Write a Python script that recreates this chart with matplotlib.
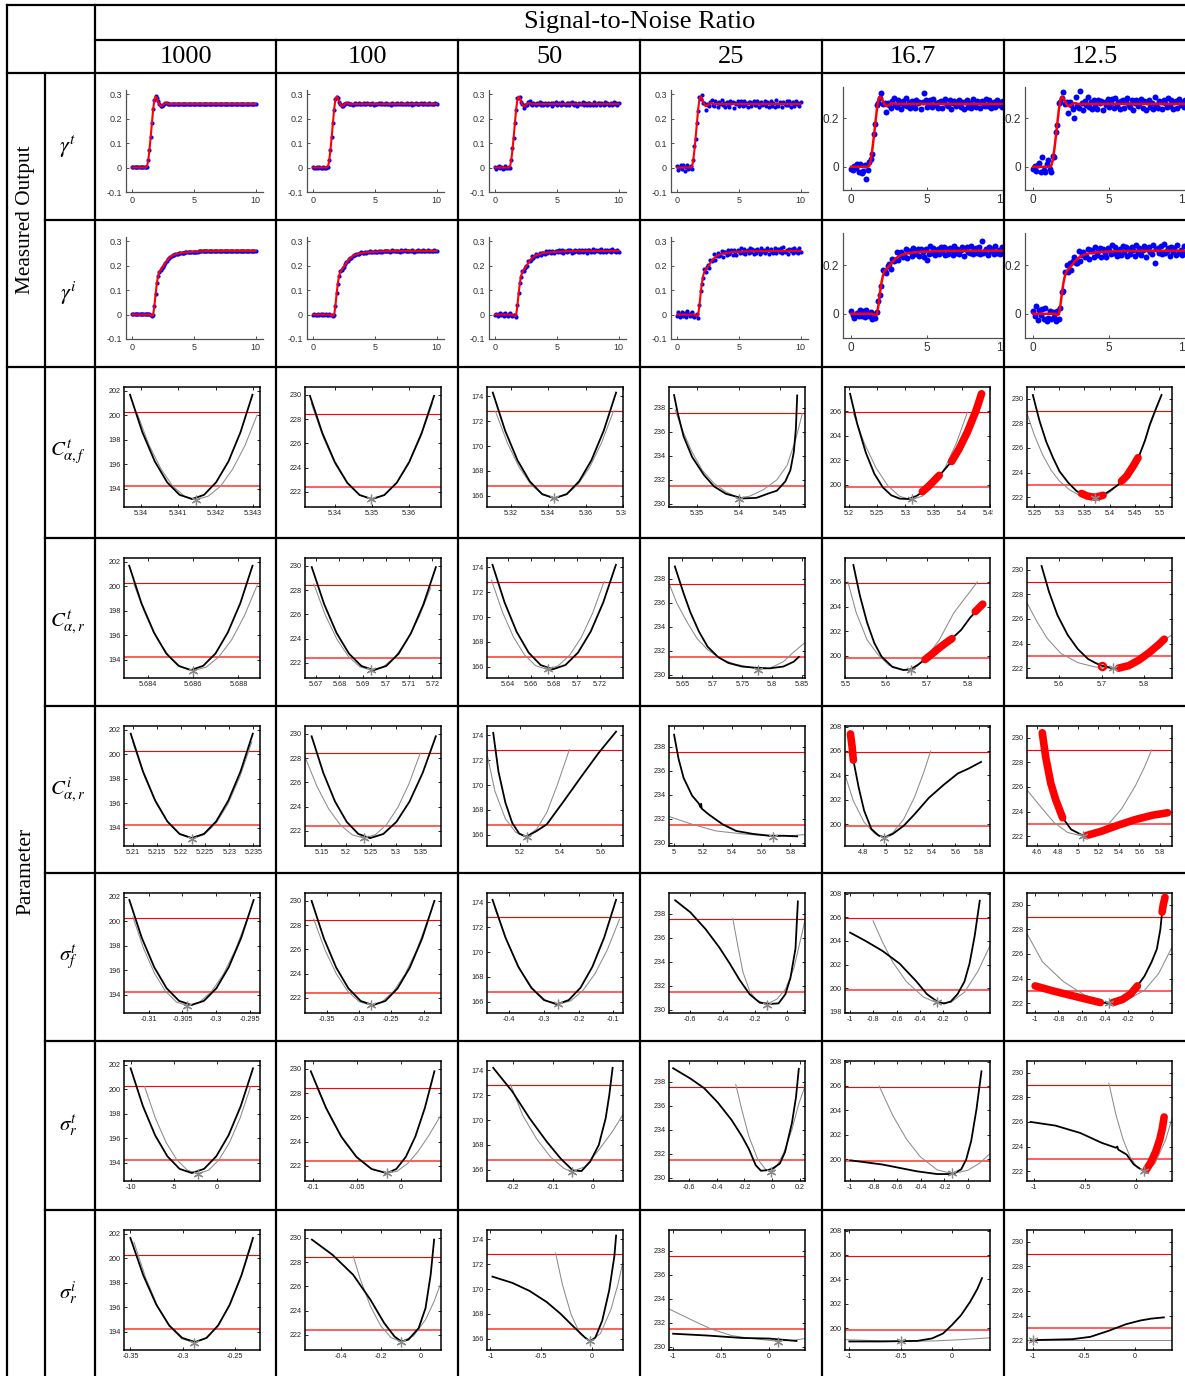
import numpy as np
import matplotlib
matplotlib.use("Agg")
import matplotlib.pyplot as plt
from matplotlib.lines import Line2D
from matplotlib.transforms import Bbox, TransformedBbox

plt.rcParams['axes.unicode_minus'] = False
plt.rcParams['mathtext.fontset'] = 'stix'
plt.rcParams['font.family'] = ['Liberation Sans', 'DejaVu Sans']

# ---------------------------------------------------------------- data
SNR = ['1000', '100', '50', '25', '16.7', '12.5']
ROW_LABELS_OUT = [r'$\gamma^t$', r'$\gamma^i$']
ROW_LABELS_PAR = [r'$C^t_{\alpha,f}$', r'$C^t_{\alpha,r}$', r'$C^i_{\alpha,r}$',
                  r'$\sigma^t_f$', r'$\sigma^t_r$', r'$\sigma^i_r$']

# measured outputs (sampling grid 0..10 s, 0.1 s)
TIME = np.linspace(0, 10, 101)
FIT_T = [0, 0, 0, 0, 0, 0, 0, 0, 0, 0, 0, 0,
         0.004, 0.028, 0.072, 0.125, 0.182, 0.238, 0.278, 0.290, 0.284, 0.271,
         0.258, 0.251, 0.252, 0.256, 0.261, 0.263, 0.263, 0.261, 0.259,
         0.26, 0.26, 0.26, 0.26, 0.26, 0.26, 0.26, 0.26, 0.26, 0.26,
         0.26, 0.26, 0.26, 0.26, 0.26, 0.26, 0.26, 0.26, 0.26, 0.26,
         0.26, 0.26, 0.26, 0.26, 0.26, 0.26, 0.26, 0.26, 0.26, 0.26,
         0.26, 0.26, 0.26, 0.26, 0.26, 0.26, 0.26, 0.26, 0.26, 0.26,
         0.26, 0.26, 0.26, 0.26, 0.26, 0.26, 0.26, 0.26, 0.26, 0.26,
         0.26, 0.26, 0.26, 0.26, 0.26, 0.26, 0.26, 0.26, 0.26, 0.26,
         0.26, 0.26, 0.26, 0.26, 0.26, 0.26, 0.26, 0.26, 0.26, 0.26]
FIT_I = [0, 0, 0, 0, 0, 0, 0, 0, 0, 0, 0, 0, 0, 0, 0,
         -0.003, -0.006, -0.002, 0.035, 0.085, 0.128, 0.158, 0.174, 0.182, 0.189,
         0.196, 0.204, 0.212, 0.219, 0.226, 0.231, 0.235, 0.239, 0.242, 0.244,
         0.246, 0.248, 0.249, 0.250, 0.251, 0.252,
         0.253, 0.253, 0.254, 0.254, 0.255,
         0.255, 0.256, 0.256, 0.256, 0.257,
         0.257, 0.257, 0.257, 0.258, 0.258, 0.258, 0.258, 0.258, 0.259, 0.259,
         0.259, 0.259, 0.259, 0.259, 0.259, 0.259, 0.259, 0.259, 0.259, 0.259,
         0.26, 0.26, 0.26, 0.26, 0.26, 0.26, 0.26, 0.26, 0.26, 0.26,
         0.26, 0.26, 0.26, 0.26, 0.26, 0.26, 0.26, 0.26, 0.26, 0.26,
         0.26, 0.26, 0.26, 0.26, 0.26, 0.26, 0.26, 0.26, 0.26, 0.26]

# measurement deviations from the fit, in units of 0.001
R1000_T = [2, 1, 2, 2, 1, 2, 2, 1, 2, 2, 1, 2, 0, 1, -1, 0, 1, 0, -1, 1,
           0, 0, 0, 0, 0, 0, 0, 0, 0, 0, 0, 0, 0, 0, 0, 0, 0, 0, 0, 0,
           0, 0, 0, 0, 0, 0, 0, 0, 0, 0, 0, 0, 0, 0, 0, 0, 0, 0, 0, 0,
           0, 0, 0, 0, 0, 0, 0, 0, 0, 0, 0, 0, 0, 0, 0, 0, 0, 0, 0, 0,
           0, 0, 0, 0, 0, 0, 0, 0, 0, 0, 0, 0, 0, 0, 0, 0, 0, 0, 0, 0, 0]
R1000_I = [1, 1, 2, 1, 1, 2, 1, 1, 2, 1, 1, 2, 1, 1, 2, 0, 0, 0, 0, 0,
           0, 0, 0, 0, 0, 0, 0, 0, 0, 0, 0, 0, 0, 0, 0, 0, 0, 0, 0, 0,
           0, 0, 0, 0, 0, 0, 0, 0, 0, 0, 0, 0, 0, 0, 0, 0, 0, 0, 0, 0,
           0, 0, 0, 0, 0, 0, 0, 0, 0, 0, 0, 0, 0, 0, 0, 0, 0, 0, 0, 0,
           0, 0, 0, 0, 0, 0, 0, 0, 0, 0, 0, 0, 0, 0, 0, 0, 0, 0, 0, 0, 0]
R100_T = [1, -2, 0, 2, -1, 1, -3, 0, 2, -1, 0, 1, -2, 3, -1, 0, 2, -2, 1, 0,
          2, -3, 1, 0, -1, 3, -2, 0, 1, -1, 2, 0, -3, 1, 2, -1, 0, 3, -2, 1,
          -1, 2, 0, -2, 3, 1, -1, 0, 2, -3, 1, 0, -1, 2, -2, 3, 0, -1, 1, 2,
          -2, 0, 1, -3, 2, 0, 1, -1, 3, -2, 0, 2, -1, 1, -2, 0, 3, -1, 0, 2,
          -3, 1, 0, 2, -1, -2, 1, 3, 0, -1, 2, -2, 0, 1, 3, -1, -2, 0, 1, 2, -1]
R100_I = [0, 2, -1, -2, 1, 0, 3, -1, 1, -2, 2, 0, -1, 1, -3, 2, 0, 1, -1, 2,
          -2, 1, 3, -1, 0, -2, 2, 1, -1, 0, 1, -3, 2, 0, -1, 2, 1, -2, 0, 3,
          -1, 0, 2, -2, 1, -1, 3, 0, -2, 1, 2, -1, 0, 1, -2, 2, -3, 1, 0, 2,
          -1, 1, -2, 0, 3, -1, 2, 0, -1, 1, -2, 3, 0, -1, 2, 1, -2, 0, 1, -1,
          2, 0, -3, 1, -1, 2, 0, 1, -2, 3, 0, -1, 1, 2, -2, 0, 1, -1, 2, 0, 1]
R50_T = [3, -5, 1, 6, -2, 4, -7, 0, 5, -3, -1, 4, -6, 2, 7, -4, 1, -2, 5, -5,
         6, -3, 2, -8, 4, 0, -5, 3, 7, -2, -4, 5, 1, -6, 3, -1, 8, -3, 2, -5,
         4, -2, -6, 5, 1, 3, -7, 2, -1, 6, -3, 0, 5, -4, 7, -2, 1, -6, 3, 4,
         -5, 2, 6, -1, -3, 5, -7, 1, 4, -2, 0, 6, -4, 3, -6, 2, 5, -3, 1, -5,
         7, -1, -4, 3, 2, -6, 4, 0, -3, 6, -2, 5, -5, 1, 3, -4, 6, -1, 2, -3, 4]
R50_I = [-2, 4, -6, 1, 5, -3, 2, -5, 7, 0, -4, 3, 6, -2, -5, 1, 4, -7, 2, 5,
         -1, -3, 6, -4, 2, 3, -6, 5, 0, -2, 7, -5, 1, 4, -3, -1, 5, -6, 3, 2,
         -4, 6, -2, 0, 5, -5, 3, -1, -6, 4, 1, -3, 7, -2, 4, -5, 0, 3, -4, 6,
         -1, 5, -6, 2, -3, 4, 1, -5, 6, -2, 3, -4, 0, 5, -7, 2, 4, -1, -3, 6,
         -5, 1, 3, -2, 5, -4, 7, -3, 0, 2, -6, 4, -1, 3, -5, 6, -2, 1, -4, 5, -3]
R25_T = [6, -10, 3, 12, -5, 9, -14, 1, 10, -7, -3, 8, -12, 4, 15, -8, 2, -5, 11, -10,
         12, -6, 4, -16, 8, 0, -11, 6, 14, -4, -9, 10, 2, -13, 7, -2, 16, -6, 4, -11,
         9, -4, -12, 10, 2, 6, -15, 5, -2, 12, -7, 1, 11, -9, 14, -4, 3, -12, 6, 9,
         -10, 4, 13, -3, -6, 10, -14, 2, 8, -5, 0, 12, -8, 6, -13, 4, 10, -7, 2, -11,
         15, -2, -9, 7, 4, -12, 8, 1, -6, 13, -5, 10, -11, 3, 6, -9, 12, -2, 5, -7, 8]
R25_I = [-4, 9, -12, 2, 11, -7, 5, -10, 14, 1, -8, 6, 12, -5, -10, 3, 9, -14, 4, 10,
         -2, -7, 13, -9, 5, 7, -12, 10, 0, -4, 15, -10, 2, 8, -6, -3, 11, -13, 6, 4,
         -9, 12, -5, 1, 10, -11, 7, -2, -13, 8, 3, -6, 14, -4, 9, -10, 0, 6, -8, 12,
         -3, 10, -12, 5, -7, 8, 2, -11, 13, -5, 6, -9, 1, 11, -14, 4, 9, -3, -7, 12,
         -10, 3, 7, -5, 10, -8, 15, -6, 0, 5, -12, 9, -2, 6, -10, 13, -5, 2, -9, 11, -6]
R167_T = [-8, -15, 5, -3, 12, -22, 10, -25, -18, 8, -50, -12, 15, 4, -20, 9, -6, 18, -14, -5,
          20, -10, 6, -24, 12, 0, -17, 9, 21, -6, -13, 15, 3, -20, 11, -3, 24, -9, 6, -17,
          14, -6, -18, 15, 3, 9, -22, 8, 45, 18, -11, 2, 17, -14, 21, -6, 5, -18, 9, 14,
          -15, 6, 20, -5, -9, 15, -21, 3, 12, -8, 0, 18, -12, 9, -20, 6, 15, -11, 3, -17,
          22, -3, -14, 11, 6, -18, 12, 2, -9, 20, -8, 15, -17, 5, 9, -14, 18, -3, 8, -11, 12]
R167_I = [12, -6, -18, -5, 3, -10, 14, -8, 11, -13, 15, -4, -10, 6, -20, 2, -12, 9, 18, -6,
          -14, 22, 4, -15, 8, 11, -18, 15, 0, -6, 24, -15, 3, 12, -9, -5, 17, -20, 9, 6,
          -14, 18, -8, 2, 15, -17, 11, -3, -20, 12, -35, -9, 21, -6, 14, -15, 0, 9, -12, 18,
          -5, 15, -18, 8, -11, 12, 3, -17, 20, -8, 9, -14, 2, 17, -21, 6, 14, -5, -11, 18,
          -15, 5, 11, -8, 15, -12, 40, -9, 0, 8, -18, 14, -3, 9, -15, 20, -8, 3, -14, 17, -9]
R125_T = [-10, 5, -18, 8, 15, -22, 40, -14, -20, 12, 30, -8, -25, 18, -30, 20, -10, 25, -12, -6,
          24, -12, 8, -30, 15, 0, -20, -60, 26, -8, -16, 55, 4, -25, 14, -4, 30, -11, 8, -21,
          17, -8, -22, 18, 4, 11, -27, 10, -4, 22, -14, 3, 21, -17, 26, -8, 6, -22, 11, 17,
          -18, 8, 25, -6, -11, 18, -26, 4, 15, -10, 0, 22, -15, 11, -25, 8, 18, -13, 4, -21,
          27, -4, -17, 14, 8, -22, 15, 3, -11, 25, -10, 18, -21, 6, 11, -17, 22, -4, 10, -14, 15]
R125_I = [10, -8, 30, -25, 15, -5, 20, -20, 25, -30, -18, 12, -22, 8, -15, -25, 18, -20, -10, 5,
          -35, 15, 28, -10, 20, -16, 12, 22, -8, -15, 28, -18, 4, 14, -11, -6, 20, -24, 11, 8,
          -17, 22, -10, 3, 18, -21, 14, -4, -24, 15, 5, -11, 26, -7, 17, -18, 0, 11, -15, 22,
          -6, 18, -22, 10, -13, 15, 4, -20, 24, -10, 11, -17, 3, 20, -25, 8, 17, -6, -13, 22,
          -50, 6, 13, -10, 18, -15, 26, -11, 0, 10, -22, 17, -4, 11, -18, 24, -10, 4, -17, 20, -11]
RES_T = [R1000_T, R100_T, R50_T, R25_T, R167_T, R125_T]
RES_I = [R1000_I, R100_I, R50_I, R25_I, R167_I, R125_I]

# profile likelihood panels: column-level values
PROFILE_MIN = [193.2, 221.4, 165.8, 230.5, 198.85, 222.0]
THRESH_LOW = [194.2, 222.42, 166.8, 231.5, 199.85, 223.0]
THRESH_HIGH = [200.25, 228.45, 172.85, 237.55, 205.9, 229.0]
PROFILE_YLIM = [(192.5, 202.3), (220.75, 230.65), (165.1, 174.75),
                (229.75, 239.7), (198.2, 207.95), (221.2, 230.95)]
PROFILE_YTICKS = [[194, 196, 198, 200, 202], [222, 224, 226, 228, 230],
                  [166, 168, 170, 172, 174], [230, 232, 234, 236, 238],
                  [200, 202, 204, 206], [222, 224, 226, 228, 230]]
YLIM_167 = [(198.2, 207.95), (198.2, 207.95), (198.2, 208.05),
            (197.9, 208.05), (198.2, 208.05), (198.2, 208.05)]
YTICKS_167 = [[200, 202, 204, 206], [200, 202, 204, 206], [200, 202, 204, 206, 208],
              [198, 200, 202, 204, 206, 208], [200, 202, 204, 206, 208],
              [200, 202, 204, 206, 208]]

# ---- C^t_{alpha,f}
CAFT_XLIM = [(5.33956, 5.34318), (5.3320, 5.36862), (5.3074, 5.3784),
             (5.3161, 5.4798), (5.193, 5.448), (5.235, 5.525)]
CAFT_XTICKS = [[5.34, 5.341, 5.342, 5.343], [5.34, 5.35, 5.36], [5.32, 5.34, 5.36, 5.38],
               [5.35, 5.4, 5.45], [5.2, 5.25, 5.3, 5.35, 5.4, 5.45],
               [5.25, 5.3, 5.35, 5.4, 5.45, 5.5]]
CAFT_BX = [[5.33972, 5.34005, 5.34038, 5.34071, 5.34104, 5.34137, 5.34169, 5.34201, 5.34234, 5.34266, 5.34298],
           [5.33333, 5.33667, 5.34001, 5.34336, 5.34670, 5.35004, 5.35338, 5.35672, 5.36007, 5.36341, 5.36675],
           [5.3105, 5.31708, 5.32366, 5.33024, 5.33682, 5.3434, 5.34998, 5.35656, 5.36314, 5.36972, 5.3763],
           [5.3222, 5.3267, 5.3337, 5.3439, 5.3582, 5.3704, 5.3847, 5.4051, 5.4214, 5.4378, 5.4459, 5.4561, 5.4622, 5.4663, 5.4688, 5.4704],
           [5.202, 5.215, 5.23, 5.245, 5.26, 5.275, 5.29, 5.305, 5.32, 5.335, 5.35, 5.365, 5.38, 5.395, 5.41, 5.425, 5.435],
           [5.2467, 5.26, 5.2735, 5.287, 5.30, 5.317, 5.334, 5.35, 5.367, 5.384, 5.40, 5.417, 5.434, 5.447, 5.4606, 5.471, 5.4806, 5.492, 5.504]]
CAFT_BY = [[201.67, 198.60, 196.22, 194.51, 193.49, 193.15, 193.49, 194.51, 196.22, 198.60, 201.67],
           [229.92, 226.85, 224.47, 222.76, 221.74, 221.40, 221.74, 222.76, 224.47, 226.85, 229.92],
           [174.3, 171.24, 168.86, 167.16, 166.14, 165.8, 166.14, 167.16, 168.86, 171.24, 174.3],
           [239.03, 237.5, 235.6, 233.9, 232.4, 231.45, 230.84, 230.46, 230.51, 230.92, 231.1, 231.87, 232.8, 234.3, 236.2, 239.0],
           [207.4, 204.9, 202.6, 200.9, 199.8, 199.15, 198.88, 198.85, 199.1, 199.6, 200.3, 201.0, 201.8, 202.9, 204.3, 206.0, 207.4],
           [230.3, 228.2, 226.5, 225.2, 224.1, 223.2, 222.5, 222.15, 222.0, 222.1, 222.5, 223.0, 223.7, 224.5, 225.5, 226.6, 227.9, 229.1, 230.3]]
CAFT_GX = [[5.33991, 5.34022, 5.34054, 5.34085, 5.34117, 5.34148, 5.34180, 5.34213, 5.34245, 5.34278, 5.34310],
           [5.3337, 5.33696, 5.34022, 5.34348, 5.34674, 5.3500, 5.35326, 5.35652, 5.35978, 5.36304, 5.3663],
           [5.3119, 5.3182, 5.3245, 5.3308, 5.3371, 5.3434, 5.3497, 5.356, 5.3623, 5.3686, 5.3749],
           [5.3235, 5.3318, 5.3439, 5.3561, 5.3704, 5.3847, 5.4, 5.4133, 5.43, 5.4459, 5.4582, 5.4684, 5.4766],
           [5.207, 5.2276, 5.2482, 5.2688, 5.2894, 5.31, 5.33, 5.35, 5.37, 5.39, 5.41],
           [5.2333, 5.25, 5.2667, 5.283, 5.30, 5.32, 5.34, 5.357, 5.3737, 5.39, 5.405, 5.42, 5.44, 5.46, 5.48, 5.50]]
CAFT_GY = [[200.14, 197.61, 195.63, 194.23, 193.38, 193.10, 193.38, 194.20, 195.58, 197.52, 200.00],
           [229.3, 226.46, 224.24, 222.66, 221.72, 221.40, 221.72, 222.66, 224.24, 226.46, 229.3],
           [172.8, 170.28, 168.32, 166.92, 166.08, 165.8, 166.08, 166.92, 168.32, 170.28, 172.8],
           [237.8, 236.2, 234.3, 232.8, 231.7, 231.0, 230.5, 230.65, 231.2, 232.0, 233.2, 235.3, 237.5],
           [205.9, 203.34, 201.36, 199.94, 199.08, 198.8, 199.08, 199.94, 201.36, 203.34, 205.9],
           [229.0, 227.0, 225.4, 224.2, 223.3, 222.6, 222.15, 221.97, 221.9, 222.1, 222.55, 223.1, 224.0, 225.4, 227.7, 229.9]]
CAFT_RED = [[], [], [], [],
            [([5.33, 5.34, 5.35, 5.36], [199.45, 199.83, 200.3, 200.77]),
             ([5.382, 5.395, 5.41, 5.425, 5.435], [201.9, 202.9, 204.3, 206.0, 207.4])],
            [([5.344, 5.355, 5.367, 5.378, 5.387], [222.3, 222.1, 222.0, 222.05, 222.15]),
             ([5.424, 5.434, 5.447, 5.457], [223.3, 223.7, 224.5, 225.2])]]
CAFT_STAR = [(5.34148, 193.1), (5.3499, 221.4), (5.3434, 165.8), (5.4, 230.4),
             (5.312, 198.85), (5.372, 221.95)]

# ---- C^t_{alpha,r}
CART_XLIM = [(5.68295, 5.68895), (5.6652, 5.7237), (5.6217, 5.7402),
             (5.6275, 5.8549), (5.499, 5.854), (5.524, 5.8664)]
CART_XTICKS = [[5.684, 5.686, 5.688], [5.67, 5.68, 5.69, 5.7, 5.71, 5.72],
               [5.64, 5.66, 5.68, 5.7, 5.72], [5.65, 5.7, 5.75, 5.8, 5.85],
               [5.5, 5.6, 5.7, 5.8], [5.6, 5.7, 5.8]]
CART_BX = [[5.68318, 5.68372, 5.68427, 5.68481, 5.68536, 5.6859, 5.68644, 5.68699, 5.68753, 5.68808, 5.68862],
           [5.6681, 5.67344, 5.67878, 5.68412, 5.68946, 5.6948, 5.70014, 5.70548, 5.71082, 5.71616, 5.7215],
           [5.6265, 5.637, 5.6475, 5.658, 5.6685, 5.679, 5.69, 5.701, 5.712, 5.723, 5.734],
           [5.6373, 5.6517, 5.6632, 5.6776, 5.692, 5.7093, 5.7266, 5.7496, 5.7727, 5.7957, 5.8187, 5.836, 5.8447],
           [5.5195, 5.5354, 5.5531, 5.5708, 5.5885, 5.615, 5.6416, 5.6593, 5.677, 5.7035, 5.7389, 5.7655, 5.7832, 5.8053, 5.8363],
           [5.5584, 5.576, 5.596, 5.62, 5.644, 5.668, 5.684, 5.70, 5.728, 5.74, 5.764, 5.788, 5.812, 5.836, 5.848]]
CART_BY = [[201.67, 198.60, 196.22, 194.51, 193.49, 193.15, 193.49, 194.51, 196.22, 198.60, 201.67],
           [229.9, 226.84, 224.46, 222.76, 221.74, 221.4, 221.74, 222.76, 224.46, 226.84, 229.9],
           [174.2, 171.18, 168.82, 167.14, 166.14, 165.8, 166.14, 167.14, 168.82, 171.18, 174.2],
           [239.0, 236.8, 235.2, 233.6, 232.35, 231.5, 231.0, 230.7, 230.6, 230.55, 230.7, 231.1, 231.5],
           [207.38, 204.9, 202.7, 201.04, 199.94, 199.1, 198.85, 198.9, 199.26, 199.94, 200.95, 201.55, 202.1, 203.1, 204.2],
           [230.3, 228.2, 226.3, 224.7, 223.55, 222.75, 222.45, 222.2, 222.0, 222.0, 222.2, 222.65, 223.25, 223.95, 224.35]]
CART_GX = [[5.68337, 5.68390, 5.68442, 5.68495, 5.68547, 5.6860, 5.68657, 5.68713, 5.68770, 5.68826, 5.68883],
           [5.669, 5.67394, 5.67888, 5.68382, 5.68876, 5.6937, 5.69882, 5.70394, 5.70906, 5.71418, 5.7193],
           [5.6256, 5.63522, 5.64484, 5.65446, 5.66408, 5.6737, 5.6837, 5.6937, 5.7037, 5.7137, 5.7237],
           [5.6275, 5.6402, 5.6575, 5.6747, 5.692, 5.715, 5.738, 5.7669, 5.7755, 5.7957, 5.8187, 5.836, 5.855],
           [5.5062, 5.5265, 5.5531, 5.5796, 5.6062, 5.6416, 5.6637, 5.6947, 5.73, 5.7655, 5.823],
           [5.524, 5.548, 5.572, 5.604, 5.644, 5.684, 5.728, 5.764, 5.804, 5.844, 5.866]]
CART_GY = [[200.25, 197.68, 195.67, 194.24, 193.39, 193.1, 193.38, 194.22, 195.62, 197.58, 200.1],
           [228.5, 225.94, 223.96, 222.54, 221.68, 221.4, 221.67, 222.49, 223.85, 225.75, 228.2],
           [172.97, 170.39, 168.38, 166.95, 166.09, 165.8, 166.08, 166.93, 168.34, 170.31, 172.85],
           [237.6, 236.0, 234.4, 233.0, 232.1, 231.3, 230.9, 230.6, 230.45, 230.55, 231.1, 231.9, 232.7],
           [206.0, 203.5, 201.3, 200.1, 199.25, 198.85, 198.85, 199.7, 201.3, 203.5, 206.0],
           [227.3, 225.75, 224.4, 223.2, 222.45, 222.1, 221.95, 222.2, 223.1, 224.2, 224.7]]
CART_RED = [[], [], [], [],
            [([5.695, 5.71, 5.73, 5.75, 5.761], [199.7, 200.1, 200.65, 201.15, 201.4]),
             ([5.818, 5.827, 5.8363], [203.6, 203.9, 204.2])],
            [([5.70], [222.2]),
             ([5.74, 5.764, 5.788, 5.812, 5.836, 5.848], [222.0, 222.2, 222.65, 223.25, 223.95, 224.35])]]
CART_STAR = [(5.686, 193.1), (5.6937, 221.4), (5.6745, 165.8), (5.7755, 230.4),
             (5.66, 198.85), (5.728, 222.0)]

# ---- C^i_{alpha,r}
CARI_XLIM = [(5.2081, 5.2364), (5.1172, 5.3904), (5.0369, 5.7116),
             (4.965, 5.9003), (4.648, 5.898), (4.5005, 5.92)]
CARI_XTICKS = [[5.21, 5.215, 5.22, 5.225, 5.23, 5.235], [5.15, 5.2, 5.25, 5.3, 5.35],
               [5.2, 5.4, 5.6], [5, 5.2, 5.4, 5.6, 5.8], [4.8, 5, 5.2, 5.4, 5.6, 5.8],
               [4.6, 4.8, 5, 5.2, 5.4, 5.6, 5.8]]
CARI_BX = [[5.2095, 5.21204, 5.21458, 5.21712, 5.21966, 5.2222, 5.22474, 5.22728, 5.22982, 5.23236, 5.2349],
           [5.1305, 5.154, 5.1775, 5.201, 5.2245, 5.248, 5.2744, 5.3008, 5.3272, 5.3536, 5.38],
           [5.0678, 5.0936, 5.1279, 5.1622, 5.1966, 5.2309, 5.2824, 5.3339, 5.4197, 5.5056, 5.5914, 5.6773],
           [5.0, 5.0303, 5.0653, 5.1236, 5.1703, 5.1819, 5.186, 5.19, 5.2402, 5.3335, 5.4268, 5.5434, 5.66, 5.7533, 5.8466],
           [4.695, 4.708, 4.72, 4.766, 4.813, 4.875, 4.937, 4.993, 5.061, 5.154, 5.247, 5.371, 5.496, 5.62, 5.712, 5.821],
           [4.65, 4.683, 4.733, 4.782, 4.849, 4.9317, 5.0478, 5.081, 5.23, 5.396, 5.562, 5.728, 5.877]]
CARI_BY = [[201.67, 198.60, 196.22, 194.51, 193.49, 193.15, 193.49, 194.51, 196.22, 198.60, 201.67],
           [229.8, 226.78, 224.42, 222.74, 221.74, 221.4, 221.74, 222.74, 224.42, 226.78, 229.8],
           [174.2, 171.1, 168.6, 166.95, 166.1, 165.85, 166.3, 166.85, 168.75, 170.7, 172.6, 174.3],
           [238.98, 237.0, 235.4, 233.93, 233.27, 232.95, 233.25, 232.85, 232.35, 231.55, 231.0, 230.75, 230.6, 230.6, 230.55],
           [207.4, 206.45, 205.25, 203.0, 201.1, 199.6, 199.06, 198.9, 199.2, 199.86, 200.8, 202.15, 203.2, 204.15, 204.55, 205.1],
           [230.4, 228.45, 226.3, 224.95, 223.5, 222.55, 222.05, 222.05, 222.4, 222.9, 223.35, 223.7, 223.9]]
CARI_GX = [[5.2099, 5.21238, 5.21486, 5.21734, 5.21982, 5.2223, 5.22478, 5.22726, 5.22974, 5.23222, 5.2347],
           [5.1172, 5.14096, 5.16472, 5.18848, 5.21224, 5.236, 5.25852, 5.28104, 5.30356, 5.32608, 5.3486],
           [5.0369, 5.0764, 5.1279, 5.1794, 5.2309, 5.2824, 5.3339, 5.3854, 5.4455],
           [4.965, 5.1236, 5.2869, 5.4735, 5.6834, 5.8, 5.9003],
           [4.648, 4.72, 4.813, 4.906, 4.98, 5.061, 5.154, 5.247, 5.325, 5.387],
           [4.5005, 4.633, 4.766, 4.899, 5.048, 5.164, 5.297, 5.429, 5.562, 5.65, 5.72]]
CARI_GY = [[201.0, 198.16, 195.94, 194.36, 193.42, 193.1, 193.42, 194.36, 195.94, 198.16, 201.0],
           [228.1, 225.69, 223.81, 222.47, 221.67, 221.4, 221.68, 222.52, 223.92, 225.88, 228.4],
           [172.5, 169.5, 167.3, 166.2, 165.8, 166.45, 167.8, 170.0, 172.85],
           [232.2, 231.55, 231.0, 230.75, 230.55, 230.6, 230.7],
           [204.05, 201.9, 200.15, 199.2, 198.9, 199.3, 200.4, 202.2, 204.2, 206.0],
           [225.75, 224.4, 223.1, 222.3, 222.0, 222.2, 222.96, 224.25, 226.1, 227.6, 229.0]]
CARI_RED = [[], [], [], [],
            [([4.695, 4.708, 4.72], [207.4, 206.45, 205.25])],
            [([4.65, 4.683, 4.733, 4.782, 4.849], [230.4, 228.45, 226.3, 224.95, 223.5]),
             ([5.081, 5.23, 5.396, 5.562, 5.728, 5.877], [222.05, 222.4, 222.9, 223.35, 223.7, 223.9])]]
CARI_STAR = [(5.2223, 193.1), (5.236, 221.4), (5.234, 165.8), (5.683, 230.5),
             (4.98, 198.85), (5.048, 222.0)]

# ---- sigma^t_f
SGFT_XLIM = [(-0.31365, -0.29354), (-0.3832, -0.1732), (-0.4626, -0.0723),
             (-0.7326, 0.1116), (-1.044, 0.2059), (-1.07, 0.175)]
SGFT_XTICKS = [[-0.31, -0.305, -0.3, -0.295], [-0.35, -0.3, -0.25, -0.2],
               [-0.4, -0.3, -0.2, -0.1], [-0.6, -0.4, -0.2, 0],
               [-1, -0.8, -0.6, -0.4, -0.2, 0], [-1, -0.8, -0.6, -0.4, -0.2, 0]]
SGFT_BX = [[-0.31286, -0.31102, -0.30918, -0.30735, -0.30551, -0.30367, -0.30183, -0.29999, -0.29816, -0.29632, -0.29448],
           [-0.373, -0.35404, -0.33508, -0.31612, -0.29716, -0.2782, -0.25924, -0.24028, -0.22132, -0.20236, -0.1834],
           [-0.4467, -0.40976, -0.37282, -0.33588, -0.29894, -0.262, -0.22804, -0.19408, -0.16012, -0.12616, -0.0922],
           [-0.6947, -0.6, -0.5053, -0.4211, -0.3579, -0.2947, -0.2316, -0.1684, -0.1053, -0.0526, -0.0105, 0.0211, 0.0526, 0.0674],
           [-1.0, -0.8676, -0.7206, -0.5735, -0.4265, -0.3382, -0.25, -0.1912, -0.1324, -0.0735, -0.0147, 0.0294, 0.0735, 0.1176],
           [-1.0, -0.85, -0.7, -0.55, -0.44, -0.363, -0.333, -0.25, -0.18, -0.122, -0.061, 0.0, 0.045, 0.075, 0.09, 0.115]]
SGFT_BY = [[201.73, 198.64, 196.24, 194.52, 193.49, 193.15, 193.49, 194.52, 196.24, 198.64, 201.73],
           [230.0, 226.9, 224.5, 222.78, 221.74, 221.4, 221.74, 222.78, 224.5, 226.9, 230.0],
           [174.2, 171.18, 168.82, 167.14, 166.14, 165.8, 166.14, 167.14, 168.82, 171.18, 174.2],
           [239.1, 238.1, 236.7, 235.2, 233.9, 232.5, 231.3, 230.6, 230.5, 230.55, 231.3, 232.65, 235.1, 239.0],
           [204.7, 204.0, 203.15, 202.08, 200.55, 199.5, 198.87, 198.7, 198.87, 199.5, 200.55, 202.08, 204.4, 207.4],
           [223.4, 223.0, 222.65, 222.3, 222.05, 222.0, 222.05, 222.3, 222.75, 223.4, 224.2, 225.35, 226.4, 228.0, 229.4, 230.6]]
SGFT_GX = [[-0.31234, -0.31073, -0.30911, -0.3075, -0.30588, -0.30427, -0.3025, -0.30073, -0.29896, -0.29719, -0.29542],
           [-0.3698, -0.35222, -0.33464, -0.31706, -0.29948, -0.2819, -0.26412, -0.24634, -0.22856, -0.21078, -0.193],
           [-0.4397, -0.40336, -0.36702, -0.33068, -0.29434, -0.258, -0.22284, -0.18768, -0.15252, -0.11736, -0.0822],
           [-0.3368, -0.3053, -0.2737, -0.2316, -0.1895, -0.1221, -0.0632, -0.0105, 0.0421, 0.0947, 0.1116],
           [-0.8029, -0.7206, -0.6324, -0.5147, -0.3676, -0.25, -0.1324, -0.0147, 0.1029, 0.2059],
           [-1.07, -0.937, -0.757, -0.575, -0.393, -0.212, -0.061, 0.06, 0.175]]
SGFT_GY = [[200.35, 197.74, 195.71, 194.26, 193.39, 193.1, 193.38, 194.24, 195.66, 197.64, 200.2],
           [228.5, 225.94, 223.96, 222.54, 221.68, 221.4, 221.68, 222.54, 223.96, 225.94, 228.5],
           [173.5, 170.73, 168.57, 167.03, 166.11, 165.8, 166.07, 166.9, 168.27, 170.18, 172.65],
           [237.6, 235.3, 233.15, 231.55, 230.8, 230.5, 230.9, 231.7, 233.45, 236.45, 237.5],
           [205.7, 203.9, 202.2, 200.55, 199.25, 198.75, 198.8, 199.65, 201.45, 203.6],
           [227.65, 225.35, 223.75, 222.65, 222.05, 222.25, 223.05, 224.4, 226.55]]
SGFT_RED = [[], [], [], [], [],
            [([-1.0, -0.85, -0.7, -0.55, -0.44], [223.4, 223.0, 222.65, 222.3, 222.05]),
             ([-0.333, -0.25, -0.18, -0.122], [222.05, 222.3, 222.75, 223.4]),
             ([0.09, 0.1, 0.115], [229.4, 230.0, 230.6])]]
SGFT_STAR = [(-0.30427, 193.1), (-0.2819, 221.4), (-0.258, 165.8), (-0.122, 230.45),
             (-0.25, 198.85), (-0.363, 222.0)]

# ---- sigma^t_r
SGRT_XLIM = [(-10.77, 4.98), (-0.1086, 0.0459), (-0.2652, 0.0765),
             (-0.7407, 0.2346), (-1.044, 0.1875), (-1.07, 0.3597)]
SGRT_XTICKS = [[-10, -5, 0], [-0.1, -0.05, 0], [-0.2, -0.1, 0],
               [-0.6, -0.4, -0.2, 0, 0.2], [-1, -0.8, -0.6, -0.4, -0.2, 0], [-1, -0.5, 0]]
SGRT_BX = [[-10.0, -8.583, -7.166, -5.749, -4.332, -2.915, -1.498, -0.081, 1.336, 2.753, 4.17],
           [-0.102, -0.08474, -0.06748, -0.05022, -0.03296, -0.0157, -0.00488, 0.00594, 0.01676, 0.02758, 0.0384],
           [-0.2496, -0.2017, -0.1583, -0.1148, -0.08, -0.0496, -0.0278, -0.0061, 0.0157, 0.033, 0.042, 0.0504],
           [-0.7111, -0.5877, -0.4889, -0.3901, -0.2914, -0.2173, -0.1679, -0.1185, -0.0815, -0.0321, 0.0049, 0.0543, 0.0914, 0.1407, 0.17, 0.1901],
           [-1.0, -0.725, -0.436, -0.262, -0.131, -0.058, -0.015, 0.028, 0.072, 0.115],
           [-1.035, -0.789, -0.544, -0.333, -0.193, -0.18, -0.17, -0.088, -0.018, 0.053, 0.088, 0.105, 0.15, 0.2, 0.24, 0.265, 0.282]]
SGRT_BY = [[201.7, 198.62, 196.23, 194.52, 193.49, 193.15, 193.49, 194.52, 196.23, 198.62, 201.7],
           [229.8, 226.78, 224.42, 222.74, 221.74, 221.4, 221.74, 222.74, 224.42, 226.78, 229.8],
           [174.2, 172.3, 170.15, 168.25, 166.9, 165.95, 165.9, 166.65, 168.0, 170.15, 172.0, 174.2],
           [239.1, 238.25, 237.45, 236.25, 234.8, 233.45, 232.4, 231.05, 230.6, 230.65, 230.8, 231.2, 232.15, 234.55, 236.7, 239.05],
           [199.9, 199.55, 199.0, 198.77, 198.77, 199.15, 199.95, 201.5, 204.05, 207.2],
           [226.0, 225.7, 225.1, 224.3, 223.9, 224.0, 223.75, 223.35, 222.55, 222.15, 222.0, 222.1, 222.7, 223.6, 224.6, 225.5, 226.4]]
SGRT_GX = [[-8.38, -7.142, -5.904, -4.666, -3.428, -2.19, -0.974, 0.242, 1.458, 2.674, 3.89],
           [-0.0941, -0.07842, -0.06274, -0.04706, -0.03138, -0.0157, -0.004, 0.008, 0.02, 0.032, 0.0459],
           [-0.2061, -0.1757, -0.1409, -0.1061, -0.0713, -0.0522, -0.0191, 0.0157, 0.0504, 0.0765],
           [-0.2617, -0.2173, -0.1679, -0.1062, -0.0444, -0.0074, 0.0296, 0.079, 0.1407, 0.1901, 0.2346],
           [-0.754, -0.638, -0.522, -0.406, -0.262, -0.131, 0.0, 0.1, 0.1875],
           [-0.263, -0.193, -0.123, -0.053, 0.018, 0.088, 0.193, 0.298, 0.36]]
SGRT_GY = [[200.2, 197.64, 195.66, 194.24, 193.38, 193.1, 193.38, 194.24, 195.66, 197.64, 200.2],
           [228.3, 225.82, 223.88, 222.5, 221.68, 221.4, 221.55, 222.2, 223.2, 224.5, 226.2],
           [172.85, 170.4, 168.5, 167.05, 166.1, 165.85, 166.25, 167.6, 169.1, 170.45],
           [237.75, 235.6, 233.45, 231.6, 230.65, 230.55, 230.95, 232.0, 234.0, 236.15, 237.6],
           [206.0, 203.57, 201.64, 200.2, 199.12, 198.8, 199.08, 199.67, 200.45],
           [229.15, 226.58, 224.58, 223.15, 222.28, 222.0, 222.64, 224.56, 226.3]]
SGRT_RED = [[], [], [], [], [],
            [([0.105, 0.15, 0.2, 0.24, 0.265, 0.282], [222.1, 222.7, 223.6, 224.6, 225.5, 226.4])]]
SGRT_STAR = [(-2.19, 193.1), (-0.0157, 221.4), (-0.052, 165.8), (-0.01, 230.5),
             (-0.131, 198.85), (0.088, 222.0)]

# ---- sigma^i_r
SGRI_XLIM = [(-0.3561, -0.2263), (-0.5826, 0.1043), (-1.034, 0.307),
             (-1.043, 0.375), (-1.042, 0.371), (-1.06, 0.361)]
SGRI_XTICKS = [[-0.35, -0.3, -0.25], [-0.4, -0.2, 0], [-1, -0.5, 0],
               [-1, -0.5, 0], [-1, -0.5, 0], [-1, -0.5, 0]]
SGRI_BX = [[-0.35, -0.33766, -0.32532, -0.31298, -0.30064, -0.2883, -0.27724, -0.26618, -0.25512, -0.24406, -0.233],
           [-0.5478, -0.4435, -0.3391, -0.2522, -0.1826, -0.1304, -0.0957, -0.0609, -0.0087, 0.0261, 0.0522, 0.0696],
           [-0.98, -0.785, -0.614, -0.444, -0.307, -0.171, -0.068, -0.017, 0.034, 0.102, 0.171, 0.222, 0.239],
           [-1.0, -0.643, -0.286, 0.0, 0.143, 0.286],
           [-1.0, -0.689, -0.336, -0.194, -0.088, 0.0, 0.088, 0.177, 0.247, 0.293],
           [-1.018, -0.614, -0.439, -0.263, -0.088, 0.053, 0.158, 0.281]]
SGRI_BY = [[201.65, 198.59, 196.21, 194.51, 193.49, 193.15, 193.49, 194.51, 196.21, 198.59, 201.65],
           [229.86, 228.6, 226.95, 224.9, 222.97, 221.86, 221.45, 221.6, 222.55, 224.2, 226.97, 229.86],
           [171.0, 170.5, 169.85, 168.95, 168.0, 166.9, 166.1, 165.8, 166.1, 167.45, 169.9, 172.65, 174.3],
           [231.1, 230.95, 230.75, 230.7, 230.6, 230.5],
           [198.9, 198.9, 198.95, 199.15, 199.55, 200.25, 201.05, 202.15, 203.2, 204.1],
           [222.0, 222.08, 222.27, 222.75, 223.3, 223.6, 223.75, 223.85]]
SGRI_GX = [[-0.3466, -0.33522, -0.32384, -0.31246, -0.30108, -0.2897, -0.2787, -0.2677, -0.2567, -0.2457, -0.2347],
           [-0.3391, -0.3043, -0.2522, -0.2, -0.1478, -0.0957, -0.0348, 0.0261, 0.0696, 0.1043],
           [-0.358, -0.29, -0.205, -0.119, -0.017, 0.085, 0.188, 0.256, 0.307],
           [-1.043, -0.821, -0.607, -0.393, -0.179, 0.071, 0.25, 0.375],
           [-1.042, -0.689, -0.495, -0.159, 0.088, 0.371],
           [-1.06, 0.361]]
SGRI_GY = [[201.3, 198.35, 196.05, 194.41, 193.43, 193.1, 193.42, 194.36, 195.94, 198.16, 201.0],
           [228.5, 226.63, 224.36, 222.74, 221.77, 221.45, 221.9, 223.25, 224.76, 226.3],
           [172.9, 170.35, 167.96, 166.43, 165.8, 166.43, 168.36, 170.35, 172.2],
           [233.15, 232.3, 231.5, 230.95, 230.7, 230.5, 230.55, 230.7],
           [199.05, 198.95, 198.9, 198.95, 199.05, 199.2],
           [222.0, 222.0]]
SGRI_RED = [[], [], [], [], [], []]
SGRI_STAR = [(-0.2897, 193.1), (-0.096, 221.4), (-0.017, 165.8), (0.09, 230.45),
             (-0.495, 198.9), (-1.0, 222.0)]

# ---------------------------------------------------------------- layout
W, H = 1185, 1376
fig = plt.figure(figsize=(W / 100, H / 100), dpi=100)
fig.patch.set_facecolor('white')

COL_EDGES = [95, 276, 458, 640, 822, 1004, 1185]
OUT_ROWS = [73, 220]
PAR_ROWS = [367, 538, 706, 873, 1041, 1210]


def rect(x0, y0, x1, y1):
    return [x0 / W, 1 - y1 / H, (x1 - x0) / W, (y1 - y0) / H]


def clipbox(x0, y0, x1, y1):
    return TransformedBbox(Bbox.from_extents(x0 / W, 1 - y1 / H, x1 / W, 1 - y0 / H),
                           fig.transFigure)


def fmt(v):
    return '%g' % v


# ---- measured output panels
for r, (fit, res) in enumerate([(FIT_T, RES_T), (FIT_I, RES_I)]):
    top = OUT_ROWS[r]
    for c in range(6):
        cl = COL_EDGES[c]
        big = c >= 4
        if big:
            x0, x1 = cl + 21, cl + 182
            if r == 0:
                y0, y1, ylim = top + 14, top + 117, (-0.096, 0.33)
            else:
                y0, y1, ylim = top + 13, top + 118, (-0.1, 0.333)
            xlim = (-0.53, 10.06)
            yt = [0, 0.2]
        else:
            x0, x1 = cl + 31, cl + 168
            y0, y1 = top + 17, top + 119
            ylim = (-0.1, 0.317)
            xlim = (-0.5, 10.6)
            yt = [-0.1, 0, 0.1, 0.2, 0.3]
        ax = fig.add_axes(rect(x0, y0, x1, y1))
        meas = [f + d / 1000.0 for f, d in zip(fit, res[c])]
        ax.plot(TIME, meas, 'o', color='#0000ff', ms=4.3 if big else 3.0, mew=0)
        ax.plot(TIME, fit, color='#ff0000', lw=1.8 if big else 1.5)
        ax.set_xlim(*xlim)
        ax.set_ylim(*ylim)
        ax.set_xticks([0, 5, 10])
        ax.set_xticklabels(['0', '5', '10'])
        ax.set_yticks(yt)
        ax.set_yticklabels([fmt(v) for v in yt])
        for s in ['top', 'right']:
            ax.spines[s].set_visible(False)
        for s in ['left', 'bottom']:
            ax.spines[s].set_color('#505050')
            ax.spines[s].set_linewidth(0.9)
        ax.tick_params(direction='in', length=2.5, width=0.7, colors='#505050',
                       labelcolor='#333333', labelsize=8.5 if big else 6.5, pad=3)
        ax.set_facecolor('none')
        if c == 4:
            cb = clipbox(cl, top, COL_EDGES[5] - 1, top + 147)
            for lab in ax.get_xticklabels():
                lab.set_clip_box(cb)
                lab.set_clip_on(True)

# ---- profile likelihood panels
PROFILE_ROWS = [
    (CAFT_XLIM, CAFT_XTICKS, CAFT_BX, CAFT_BY, CAFT_GX, CAFT_GY, CAFT_RED, CAFT_STAR),
    (CART_XLIM, CART_XTICKS, CART_BX, CART_BY, CART_GX, CART_GY, CART_RED, CART_STAR),
    (CARI_XLIM, CARI_XTICKS, CARI_BX, CARI_BY, CARI_GX, CARI_GY, CARI_RED, CARI_STAR),
    (SGFT_XLIM, SGFT_XTICKS, SGFT_BX, SGFT_BY, SGFT_GX, SGFT_GY, SGFT_RED, SGFT_STAR),
    (SGRT_XLIM, SGRT_XTICKS, SGRT_BX, SGRT_BY, SGRT_GX, SGRT_GY, SGRT_RED, SGRT_STAR),
    (SGRI_XLIM, SGRI_XTICKS, SGRI_BX, SGRI_BY, SGRI_GX, SGRI_GY, SGRI_RED, SGRI_STAR),
]

for r, (xl, xt, bx, by, gx, gy, red, star) in enumerate(PROFILE_ROWS):
    top = PAR_ROWS[r]
    for c in range(6):
        cl = COL_EDGES[c]
        if c >= 4:
            x0, x1 = cl + 23, cl + 168
        else:
            x0, x1 = cl + 29, cl + 165
        y0, y1 = top + 20, top + 140
        ax = fig.add_axes(rect(x0, y0, x1, y1))
        ax.axhline(THRESH_LOW[c], color='#ff5050', lw=1.3, zorder=1)
        ax.axhline(THRESH_HIGH[c], color='#ff0000', lw=0.8, zorder=1)
        ax.plot(gx[c], gy[c], color='#8c8c8c', lw=0.75, zorder=2)
        ax.plot(bx[c], by[c], color='black', lw=1.3, zorder=3)
        for sx, sy in red[c]:
            if len(sx) == 1:
                ax.plot(sx, sy, 'o', ms=5, mfc='none', mec='#ff0000', mew=1.8, zorder=4)
            else:
                ax.plot(sx, sy, color='#ff0000', lw=5.5, solid_capstyle='round', zorder=4)
        ax.plot([star[c][0]], [star[c][1]], marker=(6, 2, 0), ms=7, color='#8a8a8a',
                mew=0.9, zorder=5, linestyle='none')
        ax.set_xlim(*xl[c])
        if c == 4:
            ax.set_ylim(*YLIM_167[r])
            yt = YTICKS_167[r]
        else:
            ax.set_ylim(*PROFILE_YLIM[c])
            yt = PROFILE_YTICKS[c]
        ax.set_yticks(yt)
        ax.set_yticklabels([fmt(v) for v in yt])
        ax.set_xticks(xt[c])
        ax.set_xticklabels([fmt(v) for v in xt[c]])
        for s in ax.spines.values():
            s.set_color('black')
            s.set_linewidth(1.1)
        ax.tick_params(direction='in', length=2.5, width=0.6, top=True, right=True,
                       labelsize=5.2, pad=2.5, labelcolor='#222222')
        cb = clipbox(x0 - 40, y0 - 10, x1 + 3, y1 + 25)
        for lab in ax.get_xticklabels():
            lab.set_clip_box(cb)
            lab.set_clip_on(True)

# ---- table rules
LW = 1.6
HLINES = [(5, 7, 1185), (40, 95, 1185), (73, 7, 1185), (220, 45, 1185), (367, 7, 1185),
          (538, 45, 1185), (706, 45, 1185), (873, 45, 1185), (1041, 45, 1185), (1210, 45, 1185)]
VLINES = [(7, 5, 1376), (45, 73, 1376), (95, 5, 1376), (276, 40, 1376), (458, 40, 1376),
          (640, 40, 1376), (822, 40, 1376), (1004, 40, 1376)]
for y, xa, xb in HLINES:
    fig.add_artist(Line2D([xa / W, xb / W], [1 - y / H, 1 - y / H], transform=fig.transFigure,
                          color='black', lw=LW, zorder=20, solid_capstyle='projecting'))
for x, ya, yb in VLINES:
    fig.add_artist(Line2D([x / W, x / W], [1 - ya / H, 1 - yb / H], transform=fig.transFigure,
                          color='black', lw=LW, zorder=20, solid_capstyle='projecting'))

# ---- table text
SERIF = ['Liberation Serif', 'DejaVu Serif']
fig.text(640 / W, 1 - 22 / H, 'Signal-to-Noise Ratio', ha='center', va='center',
         family=SERIF, fontsize=19)
for c, s in enumerate(SNR):
    xc = (COL_EDGES[c] + COL_EDGES[c + 1]) / 2
    fig.text(xc / W, 1 - 57 / H, s, ha='center', va='center', family=SERIF, fontsize=19)
fig.text(26 / W, 1 - 220 / H, 'Measured Output', ha='center', va='center', rotation=90,
         family=SERIF, fontsize=15.3)
fig.text(26 / W, 1 - 871 / H, 'Parameter', ha='center', va='center', rotation=90,
         family=SERIF, fontsize=15.5)
for r, lab in enumerate(ROW_LABELS_OUT):
    yc = [147, 293][r]
    fig.text(68 / W, 1 - yc / H, lab, ha='center', va='center', fontsize=16)
for r, lab in enumerate(ROW_LABELS_PAR):
    yc = (PAR_ROWS[r] + (PAR_ROWS[r + 1] if r + 1 < len(PAR_ROWS) else 1376)) / 2
    fig.text(68 / W, 1 - yc / H, lab, ha='center', va='center', fontsize=15)

fig.savefig('out.png', dpi=100, facecolor='white')
